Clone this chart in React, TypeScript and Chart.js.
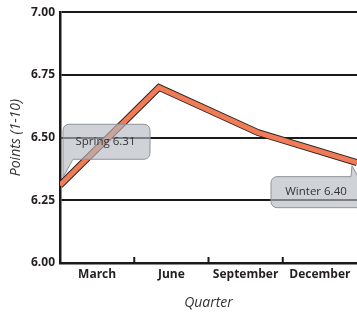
import React, { useEffect, useRef } from "react";
import { Chart, registerables } from "chart.js";

Chart.register(...registerables);

const quarters = ["March", "June", "September", "December"];
const points = [6.31, 6.7, 6.52, 6.4];
const yMin = 6.0;
const yMax = 7.0;
const yStep = 0.25;
const calloutIndex = [0, 3];
const calloutNames = ["Spring", "Winter"];

const FONT = '"Open Sans", "DejaVu Sans", sans-serif';

function calloutPath(ctx: CanvasRenderingContext2D, l: number, t: number, w: number, h: number, r: number, pointer: string, tipX: number, tipY: number) {
  const R = l + w;
  const b = t + h;
  ctx.beginPath();
  if (pointer === "top-right") {
    ctx.moveTo(l + r, t);
    ctx.lineTo(R - 12, t);
    ctx.lineTo(tipX, tipY);
    ctx.lineTo(R - 5, t);
    ctx.lineTo(R - r, t);
    ctx.arcTo(R, t, R, t + r, r);
    ctx.lineTo(R, b - r);
    ctx.arcTo(R, b, R - r, b, r);
    ctx.lineTo(l + r, b);
    ctx.arcTo(l, b, l, b - r, r);
    ctx.lineTo(l, t + r);
    ctx.arcTo(l, t, l + r, t, r);
  } else {
    ctx.moveTo(l + r, t);
    ctx.lineTo(R - r, t);
    ctx.arcTo(R, t, R, t + r, r);
    ctx.lineTo(R, b - r);
    ctx.arcTo(R, b, R - r, b, r);
    ctx.lineTo(l + 10, b);
    ctx.lineTo(tipX, tipY);
    ctx.lineTo(l, b - 3);
    ctx.lineTo(l, t + r);
    ctx.arcTo(l, t, l + r, t, r);
  }
  ctx.closePath();
}

const calloutPlugin = {
  id: "callouts",
  afterDatasetsDraw(chart: any) {
    const ctx: CanvasRenderingContext2D = chart.ctx;
    const xs = chart.scales.xLine;
    const ys = chart.scales.y;
    calloutIndex.forEach((idx, k) => {
      const px = xs.getPixelForValue(idx);
      const py = ys.getPixelForValue(points[idx]);
      const label = `${calloutNames[k]} ${points[idx].toFixed(2)}`;
      let l: number, t: number, w: number, h: number, pointer: string, tipX: number, tipY: number;
      if (k === 0) {
        l = px + 3; t = py - 61; w = 87; h = 35; pointer = "bottom-left"; tipX = px + 3; tipY = py - 8;
      } else {
        l = px - 86; t = py + 14; w = 92; h = 31; pointer = "top-right"; tipX = px - 5; tipY = py + 3;
      }
      ctx.save();
      calloutPath(ctx, l, t, w, h, 6, pointer, tipX, tipY);
      ctx.fillStyle = "rgba(180,186,194,0.64)";
      ctx.fill();
      ctx.lineWidth = 1;
      ctx.strokeStyle = "#8e9399";
      ctx.stroke();
      ctx.fillStyle = "#333333";
      ctx.font = `11.5px ${FONT}`;
      ctx.textAlign = "center";
      ctx.textBaseline = "middle";
      ctx.fillText(label, l + w / 2 - 1, t + h / 2);
      ctx.restore();
    });
  },
};

const tickPlugin = {
  id: "innerTicks",
  afterDatasetsDraw(chart: any) {
    const ctx: CanvasRenderingContext2D = chart.ctx;
    const xs = chart.scales.x;
    const bottom = chart.chartArea.bottom;
    ctx.save();
    ctx.strokeStyle = "#1a1a1a";
    ctx.lineWidth = 2;
    for (let i = 0; i < quarters.length - 1; i++) {
      const bx = (xs.getPixelForValue(i) + xs.getPixelForValue(i + 1)) / 2;
      ctx.beginPath();
      ctx.moveTo(bx, bottom);
      ctx.lineTo(bx, bottom - 6);
      ctx.stroke();
    }
    ctx.restore();
  },
};

export default function App() {
  const ref = useRef<HTMLCanvasElement>(null);
  useEffect(() => {
    const chart = new Chart(ref.current!, {
      type: "line",
      data: {
        labels: quarters,
        datasets: [
          {
            data: points.map((v, i) => ({ x: i, y: v })),
            xAxisID: "xLine",
            borderColor: "#2f2623",
            borderWidth: 7,
            borderJoinStyle: "miter",
            pointRadius: 0,
            tension: 0,
            fill: false,
            order: 2,
          },
          {
            data: points.map((v, i) => ({ x: i, y: v })),
            xAxisID: "xLine",
            borderColor: "#f07b57",
            borderWidth: 5,
            borderJoinStyle: "miter",
            pointRadius: 0,
            tension: 0,
            fill: false,
            order: 1,
          },
        ],
      },
      options: {
        animation: false,
        responsive: false,
        devicePixelRatio: 1,
        layout: { padding: { top: 9, right: 0, left: 0, bottom: 0 } },
        plugins: { legend: { display: false }, tooltip: { enabled: false } },
        scales: {
          xLine: {
            type: "linear",
            min: 0,
            max: quarters.length - 1,
            display: false,
          },
          x: {
            type: "category",
            position: "bottom",
            offset: true,
            grid: { display: false, drawTicks: false },
            border: { display: true, color: "#1a1a1a", width: 2.5 },
            ticks: {
              color: "#231f20",
              padding: 4,
              maxRotation: 0,
              font: { family: FONT, size: 12, weight: "bold" },
            },
            title: {
              display: true,
              text: "Quarter",
              color: "#333333",
              padding: { top: 0, bottom: 2 },
              font: { family: FONT, size: 14, style: "italic" },
            },
            afterFit: (s: any) => {
              s.height = 50;
            },
          },
          y: {
            min: yMin,
            max: yMax,
            ticks: {
              stepSize: yStep,
              color: "#231f20",
              padding: 5,
              font: { family: FONT, size: 12, weight: "bold" },
              callback: (v: any) => Number(v).toFixed(2),
            },
            grid: { color: "#1a1a1a", lineWidth: 2, drawTicks: false },
            border: { display: true, color: "#1a1a1a", width: 2.5 },
            title: {
              display: true,
              text: "Points (1-10)",
              color: "#333333",
              padding: { top: 7.5, bottom: 0 },
              font: { family: FONT, size: 14, style: "italic" },
            },
            afterFit: (s: any) => {
              s.width = 60;
            },
          },
        },
      },
      plugins: [tickPlugin, calloutPlugin],
    } as any);
    return () => chart.destroy();
  }, []);
  return (
    <div style={{ position: "fixed", left: 0, top: 0, width: 357, height: 313, background: "#fff" }}>
      <canvas ref={ref} width={357} height={313} style={{ display: "block" }} />
    </div>
  );
}
